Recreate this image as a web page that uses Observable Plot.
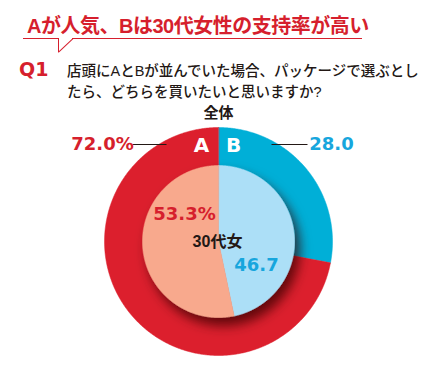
<!DOCTYPE html>
<html>
<head>
<meta charset="utf-8">
<script src="https://cdn.jsdelivr.net/npm/d3@7"></script>
<script src="https://cdn.jsdelivr.net/npm/@observablehq/plot@0.6"></script>
<style>
  html, body { margin: 0; padding: 0; background: #fff; }
  #wrap { width: 437px; }
  #head { position: relative; width: 437px; height: 125px; font-family: "Liberation Sans", "Noto Sans CJK JP", sans-serif; }
  #head div { position: absolute; white-space: nowrap; }
  .title { left: 27px; top: 14px; font-size: 20px; letter-spacing: -0.5px; font-weight: bold; color: #d61f2d; line-height: 24px; }
  .seg { height: 0; border-top: 1.5px solid #d61f2d; }
  .q1 { left: 19px; top: 57px; font-family: "DejaVu Sans", sans-serif; font-size: 19px; font-weight: bold; color: #d61f2d; line-height: 24px; }
  .qtext { left: 67px; top: 61px; font-size: 14.5px; font-weight: 500; color: #231815; line-height: 21px; }
  .group { left: 0; width: 437px; text-align: center; top: 104px; font-size: 15px; font-weight: bold; color: #231815; line-height: 18px; }
</style>
</head>
<body>
<div id="wrap">
  <div id="head"></div>
  <div id="chart"></div>
</div>
<script>
// ---- data ----
const titleText = "Aが人気、Bは30代女性の支持率が高い";
const questionNo = "Q1";
const questionLines = ["店頭にAとBが並んでいた場合、パッケージで選ぶとし", "たら、どちらを買いたいと思いますか?"];
const choices = ["B", "A"];              // clockwise from 12 o'clock
const overallLabel = "全体";
const overallValues = [28.0, 72.0];      // B, A (%)
const segmentLabel = "30代女";
const segmentValues = [46.7, 53.3];      // B, A (%)

// ---- header ----
const head = document.getElementById("head");
function addDiv(cls, text, style) {
  const d = document.createElement("div");
  d.className = cls;
  if (text != null) d.innerHTML = text;
  if (style) Object.assign(d.style, style);
  head.appendChild(d);
  return d;
}
addDiv("title", titleText);
addDiv("seg", null, {left: "23px", top: "38px", width: "35px"});
addDiv("seg", null, {left: "72px", top: "38px", width: "290px"});
addDiv("", null, {left: "57.5px", top: "38px", width: "0", height: "14px", borderLeft: "1.5px solid #d61f2d"});
addDiv("", null, {left: "57.5px", top: "51.5px", width: "19.5px", height: "0", borderTop: "1.5px solid #d61f2d", transform: "rotate(-43deg)", transformOrigin: "0 0"});
addDiv("q1", questionNo);
addDiv("qtext", questionLines.join("<br>"));
addDiv("group", overallLabel);

// ---- chart ----
const RED = "#dc1f2d", BLUE = "#00afd7", PINK = "#f8a98d", LIGHT = "#acdff7";
const TRED = "#d61f2d", TBLUE = "#17a6dd";
const R_OUT = 114, R_IN = 76;

// one polygon per slice (center + arc), angles clockwise from 12 o'clock
function slices(values, r) {
  const total = d3.sum(values);
  let acc = 0;
  return values.map((v) => {
    const a0 = acc / total * 2 * Math.PI;
    acc += v;
    const a1 = acc / total * 2 * Math.PI;
    const ring = [[0, 0]];
    const n = Math.max(2, Math.ceil((a1 - a0) / (Math.PI / 360)));
    for (let k = 0; k <= n; k++) {
      const a = a0 + (a1 - a0) * k / n;
      ring.push([r * Math.sin(a), -r * Math.cos(a)]);
    }
    ring.push([0, 0]);
    return {type: "Polygon", coordinates: [ring]};
  });
}

const outerSlices = slices(overallValues, R_OUT);
const innerSlices = slices(segmentValues, R_IN);
const outerColors = [BLUE, RED];
const innerColors = [LIGHT, PINK];

const FONT = "DejaVu Sans, Liberation Sans, sans-serif";
const pct = (v, suffix) => v.toFixed(1) + suffix;

const outerLabels = [
  {x: -116, y: -97, text: pct(overallValues[1], "%"), fill: TRED},
  {x: 113, y: -97, text: pct(overallValues[0], ""), fill: TBLUE}
];
const choiceLabels = [
  {x: -17, y: -96, text: choices[1]},
  {x: 15, y: -96, text: choices[0]}
];
const innerLabels = [
  {x: -34, y: -27, text: pct(segmentValues[1], "%"), fill: TRED},
  {x: 38, y: 24, text: pct(segmentValues[0], ""), fill: TBLUE}
];
const leaders = [
  {x1: -86, x2: -52, y: -97},
  {x1: 53, x2: 89, y: -97}
];

const chart = Plot.plot({
  width: 437,
  height: 252,
  margin: 0,
  x: {domain: [-218, 219], range: [0, 437], axis: null},
  y: {domain: [-116, 136], range: [0, 252], axis: null},
  marks: [
    ...outerSlices.map((g, i) => Plot.geo(g, {fill: outerColors[i], stroke: outerColors[i], strokeWidth: 0.5})),
    ...innerSlices.map((g, i) => Plot.geo(g, {fill: innerColors[i], stroke: innerColors[i], strokeWidth: 0.5})),
    Plot.link(leaders, {x1: "x1", x2: "x2", y1: "y", y2: "y", stroke: "#231815", strokeWidth: 1}),
    Plot.text(outerLabels, {x: "x", y: "y", text: "text", fill: "fill", fontSize: 18, fontWeight: "bold", fontFamily: FONT}),
    Plot.text(choiceLabels, {x: "x", y: "y", text: "text", fill: "white", fontSize: 20, fontWeight: "bold", fontFamily: FONT}),
    Plot.text(innerLabels, {x: "x", y: "y", text: "text", fill: "fill", fontSize: 18, fontWeight: "bold", fontFamily: FONT}),
    Plot.text([segmentLabel], {x: () => -1, y: () => 0, text: d => d, fill: "#231815", fontSize: 16, fontWeight: "bold", fontFamily: "Liberation Sans, Noto Sans CJK JP, sans-serif"})
  ]
});
const NS = "http://www.w3.org/2000/svg";
const defs = document.createElementNS(NS, "defs");
const filter = document.createElementNS(NS, "filter");
filter.setAttribute("id", "innerShadow");
filter.setAttribute("x", "-30%"); filter.setAttribute("y", "-30%");
filter.setAttribute("width", "160%"); filter.setAttribute("height", "160%");
const fe = document.createElementNS(NS, "feDropShadow");
fe.setAttribute("dx", "5"); fe.setAttribute("dy", "8");
fe.setAttribute("stdDeviation", "6");
fe.setAttribute("flood-color", "#3a0005");
fe.setAttribute("flood-opacity", "0.75");
filter.appendChild(fe);
defs.appendChild(filter);
chart.insertBefore(defs, chart.firstChild);

const geoGroups = chart.querySelectorAll('g[aria-label="geo"]');
if (geoGroups.length >= 4) {
  // wrap the inner pie in one group so the shadow is cast by the whole disc
  const wrapG = document.createElementNS(NS, "g");
  geoGroups[2].parentNode.insertBefore(wrapG, geoGroups[2]);
  wrapG.appendChild(geoGroups[2]);
  wrapG.appendChild(geoGroups[3]);
  wrapG.setAttribute("filter", "url(#innerShadow)");
}
document.getElementById("chart").appendChild(chart);
</script>
</body>
</html>
